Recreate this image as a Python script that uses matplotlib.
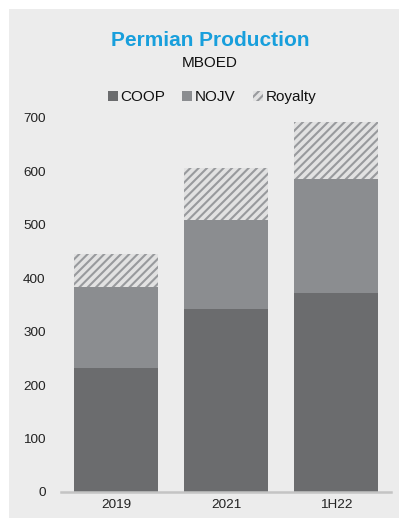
import matplotlib
matplotlib.use("Agg")
import matplotlib.pyplot as plt
from matplotlib.patches import Rectangle

plt.rcParams['font.family'] = ['Liberation Sans', 'DejaVu Sans']
plt.rcParams['hatch.linewidth'] = 1.5

categories = ["2019", "2021", "1H22"]
coop = [232, 343, 373]
nojv = [151, 167, 212]
royalty = [63, 96, 108]
yticks = [0, 100, 200, 300, 400, 500, 600, 700]

c_coop = "#6b6c6e"
c_nojv = "#8b8d90"
c_hatch = "#989a9d"
c_roy_face = "#e2e2e2"
panel = "#ececec"

W, H = 399, 518
fig = plt.figure(figsize=(W / 100, H / 100), dpi=100)
fig.patch.set_facecolor("white")
fig.patches.append(Rectangle((9 / W, 0), 1 - 9 / W, 1 - 9 / H,
                             transform=fig.transFigure, facecolor=panel,
                             edgecolor="none", zorder=-10))

ax = fig.add_axes([61 / W, (H - 492) / H, 330 / W, 374 / H])
ax.set_facecolor("none")

x = range(len(categories))
width = 0.77
bottom_nojv = coop
bottom_roy = [a + b for a, b in zip(coop, nojv)]

ax.bar(x, coop, width, color=c_coop, linewidth=0, label="COOP")
ax.bar(x, nojv, width, bottom=bottom_nojv, color=c_nojv, linewidth=0,
       label="NOJV")
plt.rcParams['hatch.color'] = c_hatch
ax.bar(x, royalty, width, bottom=bottom_roy, color=c_roy_face,
       edgecolor=c_hatch, hatch="////", linewidth=0, label="Royalty")

ax.set_xlim(-0.5, 2.5)
ax.set_ylim(0, 700)
ax.set_yticks(yticks)
ax.set_yticklabels([str(v) for v in yticks], fontsize=9.7, color="#222222")
ax.set_xticks(list(x))
ax.set_xticklabels(categories, fontsize=9.7, color="#222222")
ax.tick_params(axis="both", length=0)
ax.tick_params(axis="y", pad=11)
ax.tick_params(axis="x", pad=5)
for s in ["top", "right", "left"]:
    ax.spines[s].set_visible(False)
ax.spines["bottom"].set_color("#c4c4c4")
ax.spines["bottom"].set_linewidth(1.8)

fig.text(210 / W, 1 - 40 / H, "Permian Production", ha="center", va="center",
         fontsize=15, fontweight="bold", color="#189fdc")
fig.text(210 / W, 1 - 63 / H, "MBOED", ha="center", va="center",
         fontsize=11, color="#111111")

handles, labels = ax.get_legend_handles_labels()
fig.legend(handles, labels, loc="center", bbox_to_anchor=(212 / W, 1 - 97 / H),
           ncol=3, frameon=False, fontsize=11, handlelength=0.65,
           handleheight=0.65, handletextpad=0.2, columnspacing=1.1,
           borderpad=0, labelcolor="#111111")

fig.savefig("out.png", dpi=100, facecolor=fig.get_facecolor())
